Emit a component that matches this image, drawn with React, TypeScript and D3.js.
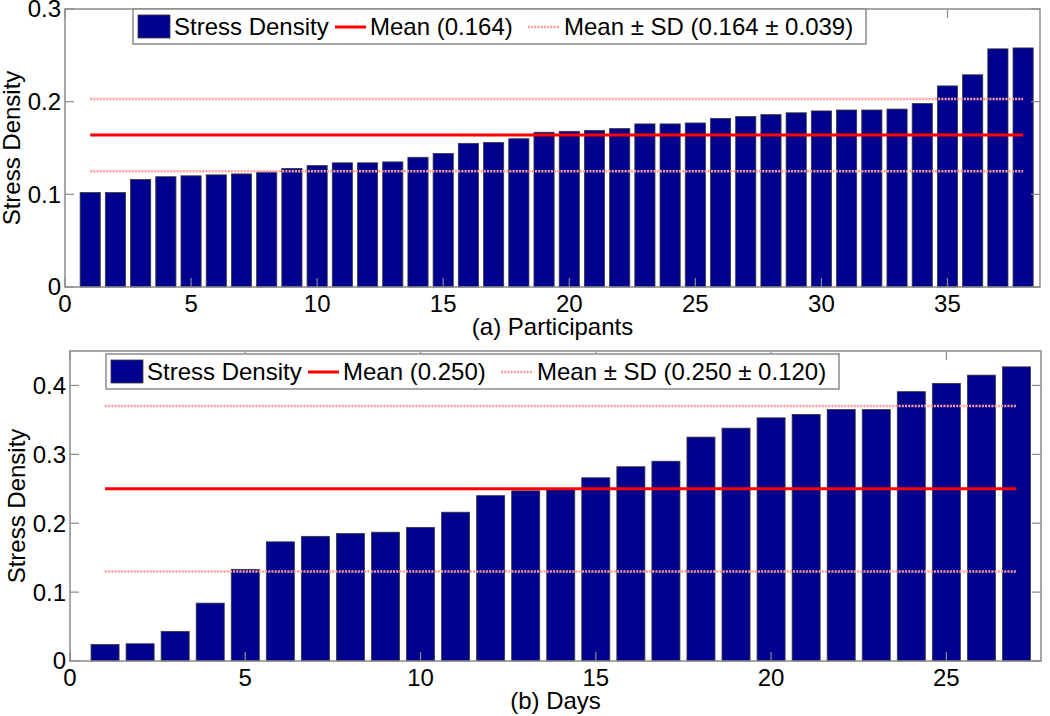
import React from "react";
import * as d3 from "d3";

const participantValues = [
  0.102, 0.102, 0.116, 0.119, 0.120, 0.121, 0.122, 0.124, 0.128, 0.131,
  0.134, 0.134, 0.135, 0.140, 0.144, 0.155, 0.156, 0.160, 0.167, 0.168,
  0.169, 0.171, 0.176, 0.176, 0.177, 0.182, 0.184, 0.186, 0.188, 0.190,
  0.191, 0.191, 0.192, 0.198, 0.217, 0.229, 0.257, 0.258,
];
const participantMean = 0.164;
const participantSD = 0.039;
const participantXTicks = [0, 5, 10, 15, 20, 25, 30, 35];
const participantYTicks = [0, 0.1, 0.2, 0.3];

const dayValues = [
  0.024, 0.025, 0.043, 0.084, 0.133, 0.173, 0.181, 0.185, 0.187, 0.194,
  0.216, 0.240, 0.247, 0.249, 0.266, 0.282, 0.290, 0.325, 0.338, 0.353,
  0.358, 0.365, 0.365, 0.391, 0.403, 0.415, 0.427,
];
const dayMean = 0.250;
const daySD = 0.120;
const dayXTicks = [0, 5, 10, 15, 20, 25];
const dayYTicks = [0, 0.1, 0.2, 0.3, 0.4];

const FONT = "'Liberation Sans', Arial, Helvetica, sans-serif";
const BAR = "#00008f";
const AXIS = "#8a8a8a";
const RED = "#ff0000";
const PINK = "#ff9d9d";

type PanelProps = {
  values: number[];
  mean: number;
  sd: number;
  xTicks: number[];
  yTicks: number[];
  xMax: number;
  yMax: number;
  left: number;
  right: number;
  top: number;
  bottom: number;
  xLabel: string;
  yFmt: (v: number) => string;
  legendLeft: number;
  legendTop: number;
  meanLabel: string;
  sdLabel: string;
};

function Panel(p: PanelProps) {
  const x = d3.scaleLinear().domain([0, p.xMax]).range([p.left, p.right]);
  const y = d3.scaleLinear().domain([0, p.yMax]).range([p.bottom, p.top]);
  const unit = x(1) - x(0);
  const bw = unit * 0.8;
  const n = p.values.length;
  const tl = 9;
  const lineX1 = x(1);
  const lineX2 = x(n);
  const L = p.legendLeft;
  const T = p.legendTop;
  return (
    <g>
      {p.values.map((v, i) => (
        <rect
          key={i}
          x={x(i + 1) - bw / 2}
          y={y(v)}
          width={bw}
          height={y(0) - y(v)}
          fill={BAR}
          stroke="#3a3a3a"
          strokeWidth={0.8}
        />
      ))}
      {/* mean +/- sd */}
      {[p.mean + p.sd, p.mean - p.sd].map((v, i) => (
        <line
          key={i}
          x1={lineX1}
          x2={lineX2}
          y1={y(v)}
          y2={y(v)}
          stroke={PINK}
          strokeWidth={2.5}
          strokeDasharray="2,1.2"
        />
      ))}
      <line x1={lineX1} x2={lineX2} y1={y(p.mean)} y2={y(p.mean)} stroke={RED} strokeWidth={3} />
      {/* axes box */}
      <rect
        x={p.left}
        y={p.top}
        width={p.right - p.left}
        height={p.bottom - p.top}
        fill="none"
        stroke={AXIS}
        strokeWidth={1.5}
      />
      {/* ticks */}
      {p.xTicks.map((t) => (
        <g key={"xt" + t}>
          <line x1={x(t)} x2={x(t)} y1={p.bottom} y2={p.bottom - tl} stroke={AXIS} strokeWidth={1.2} />
          <line x1={x(t)} x2={x(t)} y1={p.top} y2={p.top + tl} stroke={AXIS} strokeWidth={1.2} />
          <text
            x={x(t)}
            y={p.bottom + 25}
            textAnchor="middle"
            fontFamily={FONT}
            fontSize={24}
            fill="#000"
          >
            {t}
          </text>
        </g>
      ))}
      {p.yTicks.map((t) => (
        <g key={"yt" + t}>
          <line x1={p.left} x2={p.left + tl} y1={y(t)} y2={y(t)} stroke={AXIS} strokeWidth={1.2} />
          <line x1={p.right} x2={p.right - tl} y1={y(t)} y2={y(t)} stroke={AXIS} strokeWidth={1.2} />
          <text
            x={p.left - 4}
            y={y(t)}
            dy="0.35em"
            textAnchor="end"
            fontFamily={FONT}
            fontSize={24}
            fill="#000"
          >
            {p.yFmt(t)}
          </text>
        </g>
      ))}
      {/* axis labels */}
      <text
        x={(p.left + p.right) / 2}
        y={p.bottom + 48}
        textAnchor="middle"
        fontFamily={FONT}
        fontSize={24}
        fill="#000"
      >
        {p.xLabel}
      </text>
      <text
        transform={`translate(${p.left - 45},${(p.top + p.bottom) / 2}) rotate(-90)`}
        textAnchor="middle"
        fontFamily={FONT}
        fontSize={24}
        fill="#000"
      >
        Stress Density
      </text>
      {/* legend */}
      <g>
        <rect x={L} y={T} width={733} height={35} fill="#fff" stroke={AXIS} strokeWidth={1.5} />
        <rect x={L + 5} y={T + 6} width={32} height={23} fill={BAR} stroke="#3a3a3a" strokeWidth={0.8} />
        <text x={L + 41} y={T + 26} fontFamily={FONT} fontSize={24} fill="#000">
          Stress Density
        </text>
        <line x1={L + 202} x2={L + 233} y1={T + 18} y2={T + 18} stroke={RED} strokeWidth={3} />
        <text x={L + 237} y={T + 26} fontFamily={FONT} fontSize={24} fill="#000">
          {p.meanLabel}
        </text>
        <line
          x1={L + 395}
          x2={L + 427}
          y1={T + 18}
          y2={T + 18}
          stroke={PINK}
          strokeWidth={2.5}
          strokeDasharray="2,1.2"
        />
        <text x={L + 431} y={T + 26} fontFamily={FONT} fontSize={24} fill="#000">
          {p.sdLabel}
        </text>
      </g>
    </g>
  );
}

export default function App() {
  const fmt = (v: number) => (v === 0 ? "0" : d3.format(".1f")(v));
  return (
    <svg
      width={1050}
      height={716}
      style={{ position: "absolute", left: 0, top: 0, background: "#fff" }}
    >
      <rect width={1050} height={716} fill="#fff" />
      <Panel
        values={participantValues}
        mean={participantMean}
        sd={participantSD}
        xTicks={participantXTicks}
        yTicks={participantYTicks}
        xMax={38.67}
        yMax={0.3}
        left={65}
        right={1040}
        top={9}
        bottom={287}
        xLabel="(a) Participants"
        yFmt={fmt}
        legendLeft={133}
        legendTop={9}
        meanLabel={`Mean (${participantMean.toFixed(3)})`}
        sdLabel={`Mean ± SD (${participantMean.toFixed(3)} ± ${participantSD.toFixed(3)})`}
      />
      <Panel
        values={dayValues}
        mean={dayMean}
        sd={daySD}
        xTicks={dayXTicks}
        yTicks={dayYTicks}
        xMax={27.7}
        yMax={0.45}
        left={70}
        right={1041}
        top={351}
        bottom={661}
        xLabel="(b) Days"
        yFmt={fmt}
        legendLeft={106}
        legendTop={354}
        meanLabel={`Mean (${dayMean.toFixed(3)})`}
        sdLabel={`Mean ± SD (${dayMean.toFixed(3)} ± ${daySD.toFixed(3)})`}
      />
    </svg>
  );
}
